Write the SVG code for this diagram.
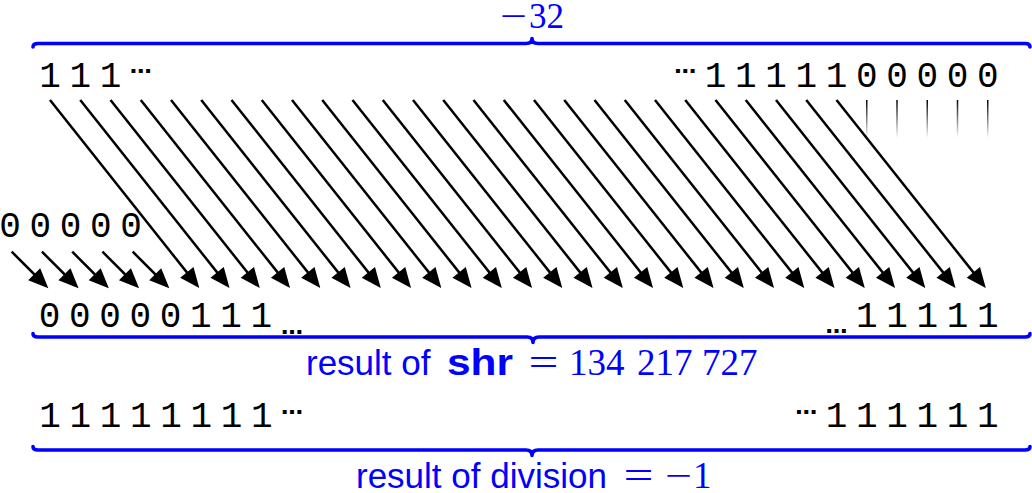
<svg xmlns="http://www.w3.org/2000/svg" width="1032" height="493" viewBox="0 0 1032 493">
<style>
.mono{font-family:"Liberation Mono","Courier New",monospace;font-size:36px;font-feature-settings:"zero";fill:#000;text-anchor:middle}
.dots{font-family:"DejaVu Sans",sans-serif;font-weight:bold;font-size:22px;fill:#000;text-anchor:middle}
.brace{fill:none;stroke:#0000ff;stroke-width:3.6;stroke-linejoin:round;stroke-linecap:round}
.lab{fill:#0000ff}
.sans{font-family:"Liberation Sans",Arial,sans-serif;font-size:35px}
.sansb{font-family:"Liberation Sans",Arial,sans-serif;font-size:37px;font-weight:bold}
.ser{font-family:"Liberation Serif","Times New Roman",serif;font-size:37px}
.arr{stroke:#000;stroke-width:2.5;fill:none;marker-end:url(#ah)}
.fade{stroke:url(#fg);stroke-width:1.5}
</style>
<defs>
<marker id="ah" viewBox="-18 -10 24 20" refX="0" refY="0" markerWidth="24" markerHeight="20" orient="auto" markerUnits="userSpaceOnUse">
<path d="M4,0 L-16,-8.5 L-16,8.5 Z" fill="#000"/>
</marker>
<linearGradient id="fg" gradientUnits="userSpaceOnUse" x1="0" y1="100" x2="0" y2="138">
<stop offset="0" stop-color="#000"/>
<stop offset="1" stop-color="#fff"/>
</linearGradient>
</defs>

<g id="top-brace">
<path class="brace" d="M33,47 Q33,43.5 38,43.5 L526,43.5 Q532,43.5 532,38.5 Q532,43.5 538,43.5 L1025,43.5 Q1030,43.5 1030,47"/>
<text class="lab ser" y="28" style="font-size:35px"><tspan x="500" textLength="27" lengthAdjust="spacingAndGlyphs">−</tspan><tspan x="529">32</tspan></text>
</g>

<g id="top-row">
<text class="mono" x="50 80.25 110.5" y="87">111</text>
<text class="dots" x="140.75" y="73.2">…</text>
<text class="dots" x="685.25" y="73.2">…</text>
<text class="mono" x="715.5 745.75 776 806.25 836.5 866.75 897 927.25 957.5 987.75" y="87">1111100000</text>
</g>

<g id="left-zeros">
<text class="mono" x="10 40.25 70.5 100.75 131" y="237">00000</text>
</g>

<g id="connectors">
<line class="fade" x1="866.75" y1="100" x2="866.75" y2="138"/>
<line class="fade" x1="897" y1="100" x2="897" y2="138"/>
<line class="fade" x1="927.25" y1="100" x2="927.25" y2="138"/>
<line class="fade" x1="957.5" y1="100" x2="957.5" y2="138"/>
<line class="fade" x1="987.75" y1="100" x2="987.75" y2="138"/>
<line class="arr" x1="11.7" y1="251.7" x2="45.5" y2="285.5"/>
<line class="arr" x1="41.95" y1="251.7" x2="75.75" y2="285.5"/>
<line class="arr" x1="72.2" y1="251.7" x2="106" y2="285.5"/>
<line class="arr" x1="102.45" y1="251.7" x2="136.25" y2="285.5"/>
<line class="arr" x1="132.7" y1="251.7" x2="166.5" y2="285.5"/>
<line class="arr" x1="50" y1="100" x2="196.8" y2="284.9"/>
<line class="arr" x1="80.25" y1="100" x2="227.05" y2="284.9"/>
<line class="arr" x1="110.5" y1="100" x2="257.3" y2="284.9"/>
<line class="arr" x1="140.75" y1="100" x2="287.55" y2="284.9"/>
<line class="arr" x1="171" y1="100" x2="317.8" y2="284.9"/>
<line class="arr" x1="201.25" y1="100" x2="348.05" y2="284.9"/>
<line class="arr" x1="231.5" y1="100" x2="378.3" y2="284.9"/>
<line class="arr" x1="261.75" y1="100" x2="408.55" y2="284.9"/>
<line class="arr" x1="292" y1="100" x2="438.8" y2="284.9"/>
<line class="arr" x1="322.25" y1="100" x2="469.05" y2="284.9"/>
<line class="arr" x1="352.5" y1="100" x2="499.3" y2="284.9"/>
<line class="arr" x1="382.75" y1="100" x2="529.55" y2="284.9"/>
<line class="arr" x1="413" y1="100" x2="559.8" y2="284.9"/>
<line class="arr" x1="443.25" y1="100" x2="590.05" y2="284.9"/>
<line class="arr" x1="473.5" y1="100" x2="620.3" y2="284.9"/>
<line class="arr" x1="503.75" y1="100" x2="650.55" y2="284.9"/>
<line class="arr" x1="534" y1="100" x2="680.8" y2="284.9"/>
<line class="arr" x1="564.25" y1="100" x2="711.05" y2="284.9"/>
<line class="arr" x1="594.5" y1="100" x2="741.3" y2="284.9"/>
<line class="arr" x1="624.75" y1="100" x2="771.55" y2="284.9"/>
<line class="arr" x1="655" y1="100" x2="801.8" y2="284.9"/>
<line class="arr" x1="685.25" y1="100" x2="832.05" y2="284.9"/>
<line class="arr" x1="715.5" y1="100" x2="862.3" y2="284.9"/>
<line class="arr" x1="745.75" y1="100" x2="892.55" y2="284.9"/>
<line class="arr" x1="776" y1="100" x2="922.8" y2="284.9"/>
<line class="arr" x1="806.25" y1="100" x2="953.05" y2="284.9"/>
<line class="arr" x1="836.5" y1="100" x2="983.3" y2="284.9"/>
</g>

<g id="shr-row">
<text class="mono" x="49.5 79.75 110 140.25 170.5 200.75 231 261.25" y="327">00000111</text>
<text class="dots" x="292" y="334.2">…</text>
<text class="dots" x="836.5" y="333.2">…</text>
<text class="mono" x="866.75 897 927.25 957.5 987.75" y="327">11111</text>
</g>

<g id="shr-brace">
<path class="brace" d="M33,333.5 Q33,337 38,337 L527,337 Q533,337 533,342.5 Q533,337 539,337 L1025,337 Q1030,337 1030,333.5"/>
<text class="lab" y="375"><tspan class="sans" x="306">result of</tspan><tspan class="sansb" x="447" textLength="66" lengthAdjust="spacingAndGlyphs">shr</tspan><tspan class="ser" x="528.5" textLength="30" lengthAdjust="spacingAndGlyphs">=</tspan><tspan class="ser" x="569">134</tspan><tspan class="ser" x="637">217</tspan><tspan class="ser" x="702">727</tspan></text>
</g>

<g id="div-row">
<text class="mono" x="50 80.25 110.5 140.75 171 201.25 231.5 261.75" y="427">11111111</text>
<text class="dots" x="292" y="414">…</text>
<text class="dots" x="806.25" y="414">…</text>
<text class="mono" x="836.5 866.75 897 927.25 957.5 987.75" y="427">111111</text>
</g>

<g id="div-brace">
<path class="brace" d="M33,446.5 Q33,450 38,450 L526,450 Q532,450 532,455.5 Q532,450 538,450 L1025,450 Q1030,450 1030,446.5"/>
<text class="lab" y="488"><tspan class="sans" x="356">result of division</tspan><tspan class="ser" x="623.5" textLength="30" lengthAdjust="spacingAndGlyphs">=</tspan><tspan class="ser" x="665" textLength="27" lengthAdjust="spacingAndGlyphs">−</tspan><tspan class="ser" x="693">1</tspan></text>
</g>
</svg>
